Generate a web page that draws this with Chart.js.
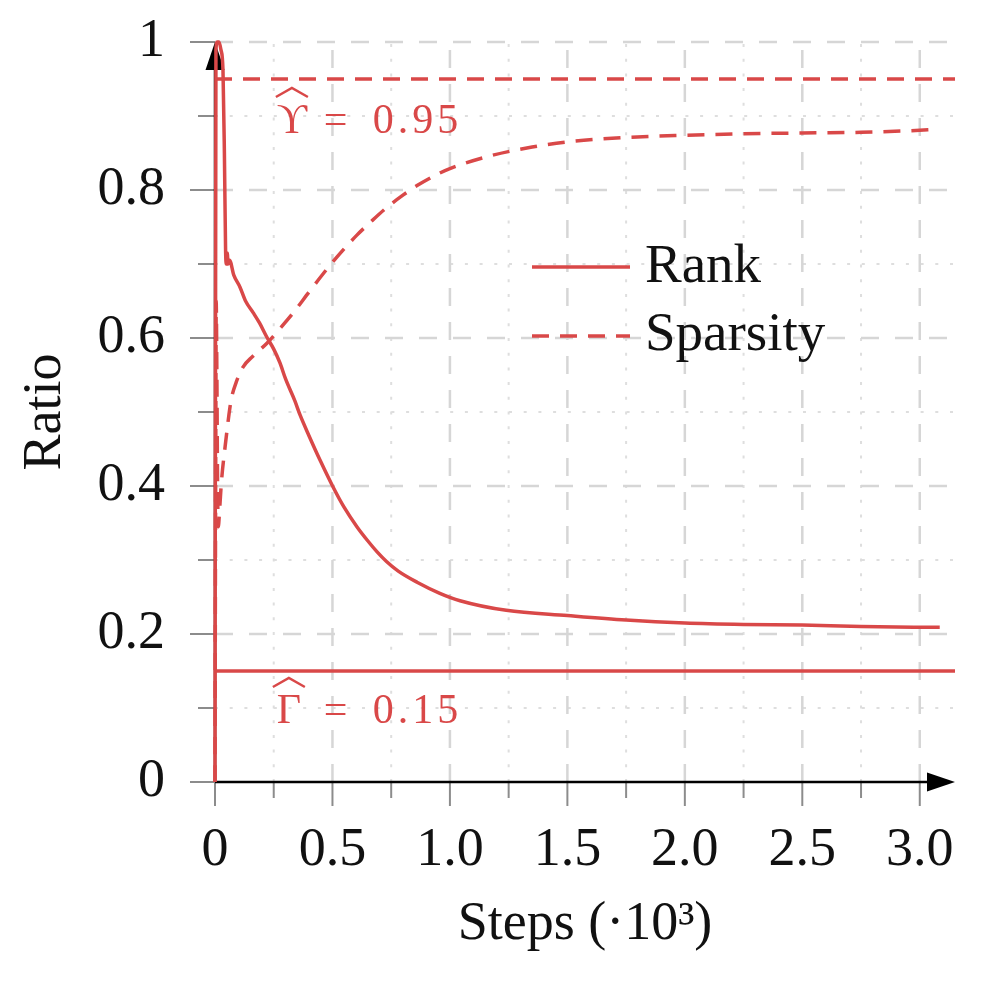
<!DOCTYPE html>
<html>
<head>
<meta charset="utf-8">
<script src="https://cdn.jsdelivr.net/npm/chart.js@4.4.1/dist/chart.umd.min.js"></script>
<style>
  body { margin: 0; background: #fff; }
</style>
</head>
<body>
<canvas id="myChart" width="998" height="984"></canvas>
<script>
// data (steps in thousands)
const rankSteps = [0, 0.004, 0.01, 0.017, 0.025, 0.034, 0.04, 0.045, 0.048, 0.052, 0.056, 0.062, 0.08, 0.106, 0.13, 0.163, 0.19, 0.221, 0.25, 0.277, 0.3, 0.34, 0.362, 0.4, 0.45, 0.502, 0.55, 0.604, 0.65, 0.69, 0.73, 0.78, 0.86, 0.957, 1.043, 1.24, 1.5, 1.75, 2.0, 2.25, 2.5, 2.75, 3.085];
const rankRatio = [0, 0.99, 1.0, 1.0, 0.99, 0.962, 0.85, 0.72, 0.70, 0.715, 0.70, 0.705, 0.685, 0.669, 0.65, 0.634, 0.62, 0.601, 0.585, 0.566, 0.545, 0.515, 0.496, 0.468, 0.433, 0.399, 0.371, 0.345, 0.326, 0.311, 0.298, 0.285, 0.270, 0.255, 0.245, 0.232, 0.225, 0.219, 0.215, 0.213, 0.212, 0.210, 0.209];

const sparsitySteps = [0, 0.003, 0.005, 0.008, 0.011, 0.014, 0.02, 0.028, 0.043, 0.064, 0.071, 0.09, 0.12, 0.16, 0.221, 0.28, 0.333, 0.4, 0.476, 0.54, 0.604, 0.67, 0.73, 0.8, 0.86, 0.957, 1.0, 1.17, 1.35, 1.5, 1.75, 2.0, 2.25, 2.5, 2.75, 2.95, 3.077];
const sparsityRatio = [0, 0.45, 0.65, 0.55, 0.40, 0.345, 0.37, 0.408, 0.453, 0.507, 0.52, 0.54, 0.561, 0.575, 0.593, 0.614, 0.634, 0.662, 0.693, 0.717, 0.739, 0.759, 0.776, 0.793, 0.806, 0.823, 0.829, 0.846, 0.858, 0.865, 0.871, 0.874, 0.876, 0.877, 0.878, 0.880, 0.882];

const thresholdSteps = [0, 3.15];
const upsilonRatio = [0.95, 0.95];
const gammaRatio = [0.15, 0.15];

const xTicks = [0, 0.5, 1.0, 1.5, 2.0, 2.5, 3.0];
const xMinor = [0.25, 0.75, 1.25, 1.75, 2.25, 2.75];
const yTicks = [0, 0.2, 0.4, 0.6, 0.8, 1.0];
const yMinor = [0.1, 0.3, 0.5, 0.7, 0.9];

const red = '#d94848';
const serif = "'Liberation Serif', 'DejaVu Serif', serif";

const pts = (xs, ys) => xs.map((v, i) => ({x: v, y: ys[i]}));

function seg(ctx, x1, y1, x2, y2) {
    ctx.beginPath();
    ctx.moveTo(x1, y1);
    ctx.lineTo(x2, y2);
    ctx.stroke();
}

// grid, ticks and arrow axes
const frame = {
    id: 'frame',
    beforeDatasetsDraw(chart) {
        const {ctx, chartArea: a, scales: {x, y}} = chart;
        ctx.save();
        // minor dotted grid
        ctx.strokeStyle = '#dedede';
        ctx.lineWidth = 2;
        ctx.setLineDash([3, 11.7]);
        xMinor.forEach(v => { const p = x.getPixelForValue(v); seg(ctx, p, a.bottom, p, a.top); });
        yMinor.forEach(v => { const p = y.getPixelForValue(v); seg(ctx, a.left, p, a.right, p); });
        // major dashed grid
        ctx.strokeStyle = '#d6d6d6';
        ctx.lineWidth = 2.5;
        ctx.setLineDash([18, 16]);
        xTicks.slice(1).forEach(v => { const p = x.getPixelForValue(v); seg(ctx, p, a.bottom, p, a.top); });
        yTicks.slice(1).forEach(v => { const p = y.getPixelForValue(v); seg(ctx, a.left, p, a.right, p); });
        // tick marks
        ctx.setLineDash([]);
        ctx.strokeStyle = '#8c8c8c';
        ctx.lineWidth = 2;
        xTicks.forEach(v => { const p = x.getPixelForValue(v); seg(ctx, p, a.bottom, p, a.bottom + 24); });
        xMinor.forEach(v => { const p = x.getPixelForValue(v); seg(ctx, p, a.bottom, p, a.bottom + 16); });
        yTicks.forEach(v => { const p = y.getPixelForValue(v); seg(ctx, a.left - 25, p, a.left, p); });
        yMinor.forEach(v => { const p = y.getPixelForValue(v); seg(ctx, a.left - 17, p, a.left, p); });
        // axes with arrows
        ctx.strokeStyle = '#000';
        ctx.fillStyle = '#000';
        ctx.lineWidth = 2.5;
        seg(ctx, a.left, a.bottom, a.right - 20, a.bottom);
        seg(ctx, a.left, a.bottom, a.left, a.top + 20);
        ctx.beginPath();
        ctx.moveTo(a.right, a.bottom);
        ctx.lineTo(a.right - 28, a.bottom - 9.5);
        ctx.lineTo(a.right - 28, a.bottom + 9.5);
        ctx.closePath();
        ctx.fill();
        ctx.beginPath();
        ctx.moveTo(a.left, a.top);
        ctx.lineTo(a.left - 9.5, a.top + 28);
        ctx.lineTo(a.left + 9.5, a.top + 28);
        ctx.closePath();
        ctx.fill();
        ctx.restore();
    },
    afterDraw(chart) {
        const {ctx, scales: {x, y}} = chart;
        ctx.save();
        // threshold labels
        ctx.fillStyle = red;
        ctx.strokeStyle = red;
        ctx.textBaseline = 'alphabetic';
        const labels = [['ϒ', '0.95', upsilonRatio[0], 54], ['Γ', '0.15', gammaRatio[0], 52]];
        labels.forEach(([sym, num, v, dy]) => {
            const lx = x.getPixelForValue(0.25) + 3;
            const base = y.getPixelForValue(v) + dy;
            ctx.font = '42px ' + serif;
            ctx.letterSpacing = '0px';
            ctx.fillText(sym, lx, base);
            ctx.fillText('=', lx + 47, base);
            ctx.letterSpacing = '4px';
            ctx.fillText(num, lx + 96, base);
            ctx.letterSpacing = '0px';
            const w = ctx.measureText(sym).width;
            const cx = lx + w / 2;
            ctx.lineWidth = 2.5;
            ctx.beginPath();
            ctx.moveTo(cx - 16, base - 36);
            ctx.lineTo(cx, base - 45);
            ctx.lineTo(cx + 16, base - 36);
            ctx.stroke();
        });
        // legend
        ctx.font = '55px ' + serif;
        ctx.fillStyle = '#111';
        ctx.strokeStyle = red;
        ctx.lineWidth = 3.5;
        seg(ctx, 532, 267, 630, 267);
        ctx.setLineDash([17, 11]);
        seg(ctx, 532, 336, 630, 336);
        ctx.setLineDash([]);
        ctx.fillText('Rank', 645, 282);
        ctx.fillText('Sparsity', 645, 350);
        ctx.restore();
    }
};

const canvas = document.getElementById('myChart');
const myChart = new Chart(canvas, {
    type: 'scatter',
    data: {
        datasets: [{
            label: 'Rank',
            data: pts(rankSteps, rankRatio),
            showLine: true,
            borderColor: red,
            borderWidth: 3.5,
            pointRadius: 0,
            cubicInterpolationMode: 'monotone',
            clip: 6
        }, {
            label: 'Sparsity',
            data: pts(sparsitySteps, sparsityRatio),
            showLine: true,
            borderColor: red,
            borderWidth: 3.5,
            borderDash: [17, 11],
            pointRadius: 0,
            cubicInterpolationMode: 'monotone',
            clip: 6
        }, {
            label: 'Upsilon',
            data: pts(thresholdSteps, upsilonRatio),
            showLine: true,
            borderColor: red,
            borderWidth: 3.5,
            borderDash: [17, 11],
            pointRadius: 0
        }, {
            label: 'Gamma',
            data: pts(thresholdSteps, gammaRatio),
            showLine: true,
            borderColor: red,
            borderWidth: 3.5,
            pointRadius: 0
        }]
    },
    options: {
        responsive: false,
        animation: false,
        layout: { padding: { left: 0, right: 43, top: 42, bottom: 0 } },
        plugins: { legend: { display: false }, tooltip: { enabled: false } },
        scales: {
            x: {
                type: 'linear',
                min: 0,
                max: 3.15,
                afterBuildTicks: s => { s.ticks = xTicks.map(v => ({value: v})); },
                afterFit: s => { s.height = 202; },
                grid: { display: false, drawTicks: true, tickLength: 36 },
                border: { display: false },
                ticks: {
                    padding: 0,
                    color: '#111',
                    autoSkip: false,
                    maxRotation: 0,
                    font: { family: serif, size: 54 },
                    callback: v => v === 0 ? '0' : v.toFixed(1)
                },
                title: {
                    display: true,
                    text: 'Steps (·10³)',
                    color: '#111',
                    font: { family: serif, size: 54 },
                    padding: { top: 0, bottom: 27 }
                }
            },
            y: {
                type: 'linear',
                min: 0,
                max: 1,
                afterBuildTicks: s => { s.ticks = yTicks.map(v => ({value: v})); },
                afterFit: s => { s.width = 215; },
                grid: { display: false, drawTicks: true, tickLength: 50 },
                border: { display: false },
                ticks: {
                    padding: 0,
                    color: '#111',
                    autoSkip: false,
                    font: { family: serif, size: 54 },
                    callback: v => v === 0 ? '0' : (v === 1 ? '1' : v.toFixed(1))
                },
                title: {
                    display: true,
                    text: 'Ratio',
                    color: '#111',
                    font: { family: serif, size: 54 },
                    padding: { top: 13, bottom: 0 }
                }
            }
        }
    },
    plugins: [frame]
});
</script>
</body>
</html>
